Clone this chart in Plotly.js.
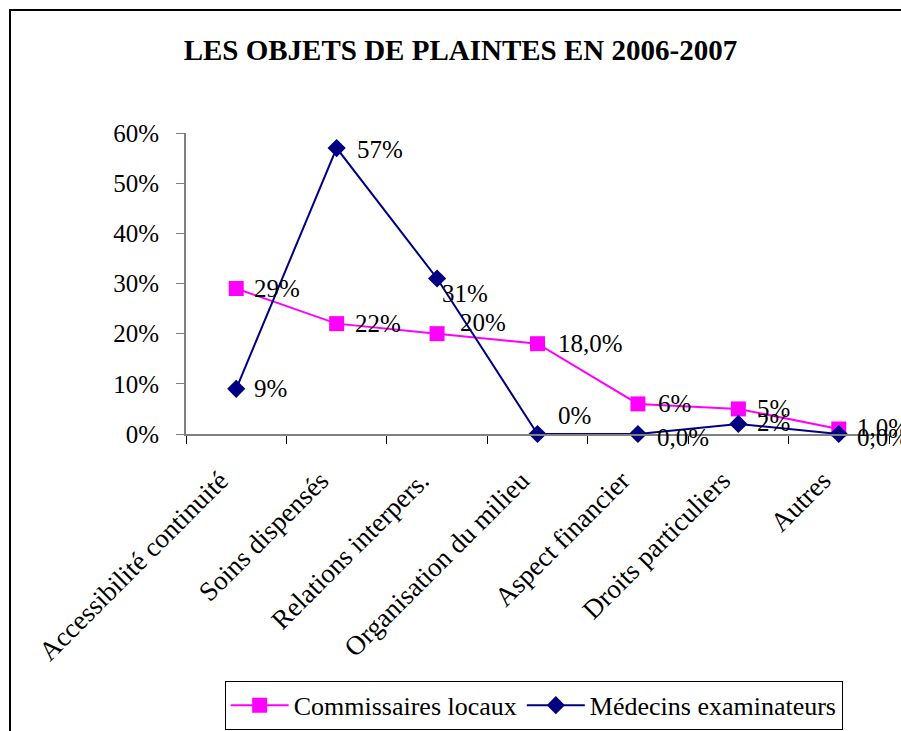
<!DOCTYPE html>
<html>
<head>
<meta charset="utf-8">
<script src="https://cdn.plot.ly/plotly-3.0.1.min.js"></script>
<style>
  html, body { margin: 0; padding: 0; background: #fff; }
  #frame { position: absolute; left: 9px; top: 9px; width: 1000px; height: 1000px; border: 2px solid #000; box-sizing: border-box; }
  #chart { position: absolute; left: 0; top: 0; width: 901px; height: 731px; }
</style>
</head>
<body>
<div id="frame"></div>
<div id="chart"></div>
<script>
const categories = ["Accessibilité continuité", "Soins dispensés", "Relations interpers.", "Organisation du milieu", "Aspect financier", "Droits particuliers", "Autres"];
const commissaires = [0.29, 0.22, 0.20, 0.18, 0.06, 0.05, 0.01];
const commissairesLabels = ["29%", "22%", "20%", "18,0%", "6%", "5%", "1,0%"];
const medecins = [0.09, 0.57, 0.31, 0.00, 0.00, 0.02, 0.00];
const medecinsLabels = ["9%", "57%", "31%", "0%", "0,0%", "2%", "0,0%"];

// label pixel offsets (styling only)
const commShiftX = [16, 16, 21, 18, 18, 17, 16];
const commShiftY = [0, 0, 11, 0, 0, 0, 1];
const medShiftX = [16, 18, 3, 18, 17, 17, 16];
const medShiftY = [0, -1, -15, 19, -3, 1, -3];

const font = "Liberation Serif";

const traces = [
  {
    x: categories, y: commissaires, name: "Commissaires locaux",
    type: "scatter", mode: "lines+markers",
    line: {color: "#FF00FF", width: 2},
    marker: {symbol: "square", size: 15, color: "#FF00FF"},
    cliponaxis: false
  },
  {
    x: categories, y: medecins, name: "Médecins examinateurs",
    type: "scatter", mode: "lines+markers",
    line: {color: "#000080", width: 2},
    marker: {symbol: "diamond", size: 14, color: "#000080"},
    cliponaxis: false
  }
];

const annotations = [];
function addLabels(vals, labels, sx, sy) {
  vals.forEach((v, i) => {
    annotations.push({
      x: categories[i], y: v, xref: "x", yref: "y", text: labels[i],
      showarrow: false, xanchor: "left", yanchor: "middle",
      xshift: sx[i], yshift: sy[i],
      font: {family: font, size: 25, color: "#000"}
    });
  });
}
addLabels(commissaires, commissairesLabels, commShiftX, commShiftY);
addLabels(medecins, medecinsLabels, medShiftX, medShiftY);

const layout = {
  width: 901, height: 731,
  margin: {l: 186, r: 12, t: 133, b: 297, autoexpand: false},
  paper_bgcolor: "rgba(0,0,0,0)",
  plot_bgcolor: "rgba(0,0,0,0)",
  font: {family: font, size: 25, color: "#000"},
  title: {
    text: "<b>LES OBJETS DE PLAINTES EN 2006-2007</b>",
    font: {family: font, size: 29, color: "#000"},
    x: 0.511, xref: "container", xanchor: "center", y: 0.932, yref: "container", yanchor: "middle"
  },
  xaxis: {
    type: "category", range: [-0.5, 6.5],
    showline: true, linecolor: "#808080", linewidth: 2,
    ticks: "outside", tickson: "boundaries", ticklen: 8, tickcolor: "#000", tickwidth: 1,
    tickangle: -45, showgrid: false, zeroline: false, automargin: false,
    ticklabelstandoff: 18, ticklabelshift: -16,
    tickfont: {family: font, size: 27, color: "#000"}
  },
  yaxis: {
    range: [0, 0.6], tickvals: [0, 0.1, 0.2, 0.3, 0.4, 0.5, 0.6], tickformat: ".0%",
    showline: true, linecolor: "#808080", linewidth: 2,
    ticks: "outside", ticklen: 8, tickcolor: "#808080", tickwidth: 1,
    showgrid: false, zeroline: false, automargin: false,
    ticklabelstandoff: 12,
    tickfont: {family: font, size: 25, color: "#000"}
  },
  annotations: annotations,
  showlegend: true,
  legend: {
    orientation: "h", x: 0.055, xanchor: "left", y: -0.82, yanchor: "top",
    bordercolor: "#000", borderwidth: 1, bgcolor: "#fff", itemwidth: 58,
    font: {family: font, size: 26, color: "#000"}
  }
};

Plotly.newPlot("chart", traces, layout, {displayModeBar: false, staticPlot: true});
</script>
</body>
</html>
